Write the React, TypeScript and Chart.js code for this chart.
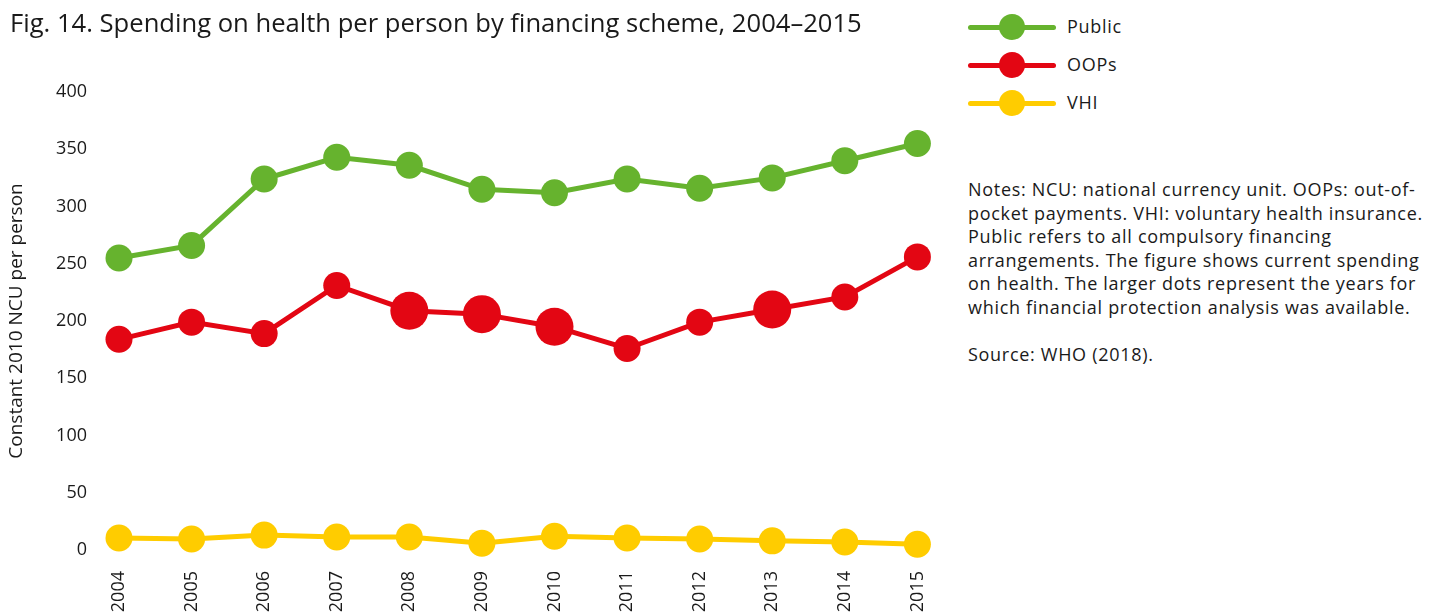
import React, { useEffect, useRef } from "react";
import { Chart, registerables } from "chart.js";

Chart.register(...registerables);

const years = ["2004", "2005", "2006", "2007", "2008", "2009", "2010", "2011", "2012", "2013", "2014", "2015"];
const publicValues = [255, 266, 324, 343, 336, 315, 312, 324, 316, 325, 340, 355];
const oopsValues = [184, 199, 189, 231, 209, 206, 195, 176, 199, 210, 221, 256];
const vhiValues = [10.5, 9.6, 13, 11.4, 11.4, 6, 12, 10.5, 9.6, 8, 7, 5];
const analysisYears = ["2008", "2009", "2010", "2013"];
const yMin = 0;
const yMax = 400;
const yStep = 50;

const GREEN = "#66b32e";
const RED = "#e30613";
const YELLOW = "#ffcc00";
const TEXT = "#1a1a1a";
const FONT = "'Open Sans', 'Noto Sans', sans-serif";

const legendItems = [
  { label: "Public", color: GREEN },
  { label: "OOPs", color: RED },
  { label: "VHI", color: YELLOW },
];

const noteLines = [
  "Notes: NCU: national currency unit. OOPs: out-of-",
  "pocket payments. VHI: voluntary health insurance.",
  "Public refers to all compulsory financing",
  "arrangements. The figure shows current spending",
  "on health. The larger dots represent the years for",
  "which financial protection analysis was available.",
];

export default function App() {
  const canvasRef = useRef<HTMLCanvasElement | null>(null);

  useEffect(() => {
    const canvas = canvasRef.current;
    if (!canvas) return;
    const small = 13.5;
    const big = 19;
    const chart = new Chart(canvas, {
      type: "line",
      data: {
        labels: years,
        datasets: [
          {
            label: "Public",
            data: publicValues,
            borderColor: GREEN,
            backgroundColor: GREEN,
            borderWidth: 5,
            pointRadius: small,
            pointHoverRadius: small,
            pointBorderWidth: 0,
            tension: 0,
            clip: false,
          },
          {
            label: "OOPs",
            data: oopsValues,
            borderColor: RED,
            backgroundColor: RED,
            borderWidth: 5,
            pointRadius: years.map((y) => (analysisYears.includes(y) ? big : small)),
            pointHoverRadius: years.map((y) => (analysisYears.includes(y) ? big : small)),
            pointBorderWidth: 0,
            tension: 0,
            clip: false,
          },
          {
            label: "VHI",
            data: vhiValues,
            borderColor: YELLOW,
            backgroundColor: YELLOW,
            borderWidth: 5,
            pointRadius: small,
            pointHoverRadius: small,
            pointBorderWidth: 0,
            tension: 0,
            clip: false,
          },
        ],
      },
      options: {
        responsive: false,
        animation: false,
        layout: { padding: { top: 92, right: 38, left: 0, bottom: 0 } },
        plugins: {
          legend: { display: false },
          tooltip: { enabled: false },
          title: { display: false },
        },
        scales: {
          x: {
            type: "category",
            offset: false,
            grid: { display: false, drawTicks: false },
            border: { display: false },
            ticks: {
              minRotation: 90,
              maxRotation: 90,
              padding: 21,
              color: TEXT,
              font: { family: FONT, size: 18 },
            },
            afterFit: (scale: any) => {
              scale.height = 63;
            },
          },
          y: {
            min: yMin,
            max: yMax,
            grid: { display: false, drawTicks: false },
            border: { display: false },
            ticks: {
              stepSize: yStep,
              padding: 32,
              color: TEXT,
              font: { family: FONT, size: 18 },
            },
            title: {
              display: true,
              text: "Constant 2010 NCU per person",
              color: TEXT,
              font: { family: FONT, size: 19 },
              padding: { top: 5, bottom: 0 },
            },
            afterFit: (scale: any) => {
              scale.width = 119;
            },
          },
        },
      },
    });
    return () => chart.destroy();
  }, []);

  return (
    <div
      style={{
        position: "fixed",
        left: 0,
        top: 0,
        width: 1439,
        height: 613,
        background: "#fff",
        fontFamily: FONT,
        color: TEXT,
        overflow: "hidden",
      }}
    >
      <canvas
        ref={canvasRef}
        width={960}
        height={613}
        style={{ position: "absolute", left: 0, top: 0, width: 960, height: 613 }}
      />
      <div
        style={{
          position: "absolute",
          left: 10,
          top: 6,
          fontSize: 25.6,
          lineHeight: "34px",
          whiteSpace: "nowrap",
        }}
      >
        Fig. 14. Spending on health per person by financing scheme, 2004–2015
      </div>
      {legendItems.map((item, i) => {
        const cy = 27 + i * 38;
        return (
          <div key={item.label}>
            <div
              style={{
                position: "absolute",
                left: 968,
                top: cy - 2.5,
                width: 88,
                height: 5,
                borderRadius: 3,
                background: item.color,
              }}
            />
            <div
              style={{
                position: "absolute",
                left: 1012 - 13,
                top: cy - 13,
                width: 26,
                height: 26,
                borderRadius: "50%",
                background: item.color,
              }}
            />
            <div
              style={{
                position: "absolute",
                left: 1067,
                top: cy - 13,
                fontSize: 18,
                letterSpacing: "0.7px",
                lineHeight: "25px",
                whiteSpace: "nowrap",
              }}
            >
              {item.label}
            </div>
          </div>
        );
      })}
      <div
        style={{
          position: "absolute",
          left: 968,
          top: 178,
          fontSize: 18,
          letterSpacing: "0.7px",
          lineHeight: "23.6px",
          whiteSpace: "nowrap",
        }}
      >
        {noteLines.map((l) => (
          <div key={l}>{l}</div>
        ))}
        <div style={{ height: 23.6 }} />
        <div>Source: WHO (2018).</div>
      </div>
    </div>
  );
}
